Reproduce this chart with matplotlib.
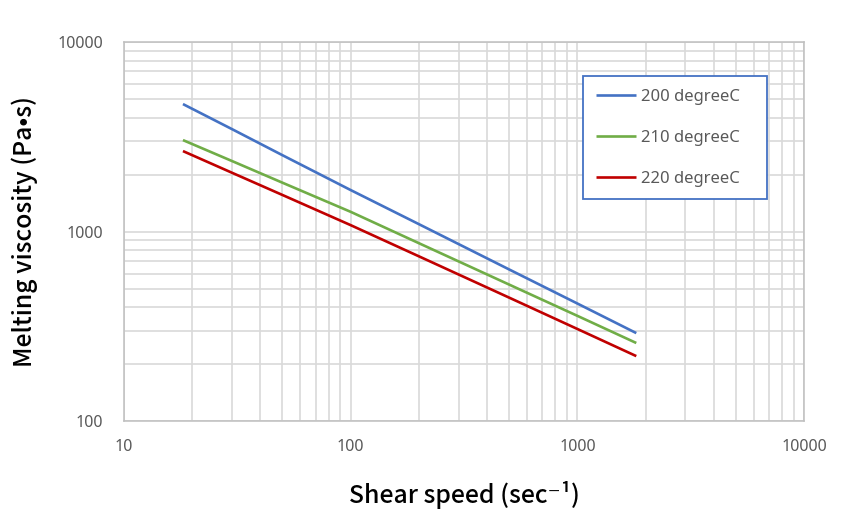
import matplotlib.pyplot as plt

# shear speed (1/sec) and melt viscosity (Pa s)
shear = [18.2, 30, 50, 100, 200, 500, 1000, 1820]
visc_200 = [4710, 3470, 2530, 1656, 1094, 631, 417, 291]
visc_210 = [3040, 2355, 1811, 1271, 868, 525, 359, 258]
visc_220 = [2660, 2042, 1560, 1081, 740, 448, 306, 220]

labels = ['200 degreeC', '210 degreeC', '220 degreeC']
colors = ['#4472C4', '#70AD47', '#C00000']

fig = plt.figure(figsize=(8.5, 5.14), dpi=100)
ax = fig.add_axes([0.1459, 0.181, 0.8, 0.737])

for ys, lab, col in zip([visc_200, visc_210, visc_220], labels, colors):
    ax.plot(shear, ys, color=col, lw=1.9, label=lab, solid_capstyle='butt')

ax.set_xscale('log')
ax.set_yscale('log')
ax.set_xlim(10, 10000)
ax.set_ylim(100, 10000)
ax.set_xticks([10, 100, 1000, 10000])
ax.set_xticklabels(['10', '100', '1000', '10000'])
ax.set_yticks([100, 1000, 10000])
ax.set_yticklabels(['100', '1000', '10000'])

ax.grid(True, which='both', color='#d9d9d9', lw=1.2)
ax.set_axisbelow(True)
ax.tick_params(which='both', length=0, labelsize=11.5, labelcolor='#595959')
ax.tick_params(axis='x', pad=13)
ax.tick_params(axis='y', pad=15)
for lbl in ax.get_xticklabels() + ax.get_yticklabels():
    lbl.set_family('Noto Sans')
for sp in ax.spines.values():
    sp.set_color('#bfbfbf')
    sp.set_linewidth(1.1)

cjk = ['Noto Sans CJK JP', 'DejaVu Sans']
ax.set_ylabel('Melting viscosity (Pa•s)', fontsize=17.8, family=cjk,
              fontweight=500, labelpad=14)
ax.set_xlabel('Shear speed (sec⁻¹)', fontsize=17.8, family=cjk,
              fontweight=500, labelpad=19)

leg = ax.legend(loc='upper left', bbox_to_anchor=(0.675, 0.91, 0.2706, 0.0),
                mode='expand', prop={'family': 'Noto Sans', 'size': 12},
                handlelength=2.4, handletextpad=0.3, labelspacing=1.5,
                borderpad=0.75, borderaxespad=0, fancybox=False, framealpha=1)
leg.get_frame().set_edgecolor('#4472C4')
leg.get_frame().set_linewidth(1.3)
for t in leg.get_texts():
    t.set_color('#595959')

fig.savefig('out.png', dpi=100)
